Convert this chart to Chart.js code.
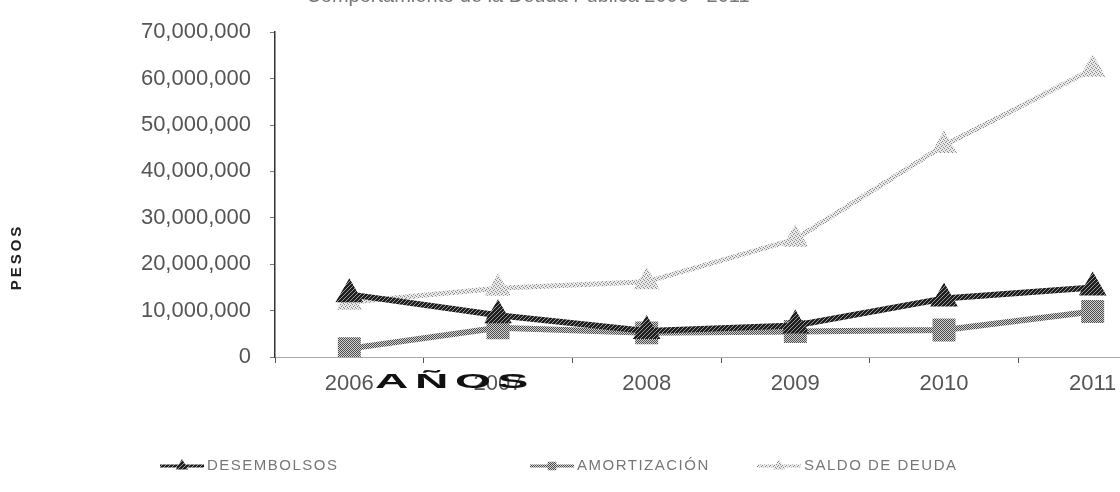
<!DOCTYPE html>
<html>
<head>
<meta charset="utf-8">
<script src="https://cdn.jsdelivr.net/npm/chart.js@4/dist/chart.umd.min.js"></script>
<style>
  html, body { margin: 0; padding: 0; background: #fff; width: 1120px; height: 492px; overflow: hidden; }
  #wrap { position: absolute; left: 0; top: 0; width: 1200px; height: 492px; }
</style>
</head>
<body>
<div id="wrap"><canvas id="chart"></canvas></div>
<script>
// Años del periodo
const years = ['2006', '2007', '2008', '2009', '2010', '2011'];

// Valores en pesos por serie
const desembolsos  = [13500000, 9000000, 5600000, 6800000, 12600000, 15000000];
const amortizacion = [1800000, 6300000, 5200000, 5500000, 5800000, 9800000];
const saldoDeuda   = [11800000, 14800000, 16200000, 25400000, 45600000, 62000000];

// Escala vertical
const yMin = 0;
const yMax = 70000000;
const yStep = 10000000;

// Textos
const seriesNames = ['DESEMBOLSOS', 'AMORTIZACIÓN', 'SALDO DE DEUDA'];
const chartTitle = 'Comportamiento de la Deuda Pública 2006 - 2011';
const yAxisTitle = 'PESOS';
const xAxisTitle = 'AÑOS';

const fmt = v => v.toLocaleString('en-US');

// Trama punteada para imitar la impresión en grises
function dither(fg, bg, mask) {
  const n = mask.length;
  const c = document.createElement('canvas');
  c.width = n; c.height = n;
  const g = c.getContext('2d');
  g.fillStyle = bg; g.fillRect(0, 0, n, n);
  g.fillStyle = fg;
  for (let y = 0; y < n; y++)
    for (let x = 0; x < n; x++)
      if (mask[y][x] === '1') g.fillRect(x, y, 1, 1);
  return g.createPattern(c, 'repeat');
}
const darkFill  = dither('#1e1e1e', '#9a9a9a', ['1101', '1011', '0111', '1110']);
const midFill   = dither('#4a4a4a', '#d4d4d4', ['1010', '0101', '1010', '0101']);
const lightFill = dither('#8a8a8a', '#e8e8e8', ['1000', '0010', '0100', '0001']);

// Títulos, ejes y leyenda dibujados sobre el lienzo
const decor = {
  id: 'decor',
  afterDraw(chart) {
    const ctx = chart.ctx;
    const area = chart.chartArea;
    ctx.save();

    // Título (parcialmente fuera del lienzo)
    ctx.fillStyle = '#777';
    ctx.font = '20px "Liberation Sans", Arial, sans-serif';
    ctx.textAlign = 'center';
    ctx.textBaseline = 'alphabetic';
    ctx.fillText(chartTitle, 528, 1.5);

    // Título del eje Y
    ctx.save();
    ctx.translate(17, 257);
    ctx.rotate(-Math.PI / 2);
    ctx.font = 'bold 15px "Liberation Sans", Arial, sans-serif';
    ctx.letterSpacing = '3px';
    ctx.fillStyle = '#222';
    ctx.textAlign = 'center';
    ctx.textBaseline = 'middle';
    ctx.fillText(yAxisTitle, 0, 0);
    ctx.restore();

    // Título del eje X
    ctx.save();
    ctx.translate(area.left + 180, area.bottom + 25);
    ctx.scale(2.2, 1);
    ctx.font = 'bold 21px "Liberation Sans", Arial, sans-serif';
    ctx.letterSpacing = '3px';
    ctx.fillStyle = '#111';
    ctx.textAlign = 'center';
    ctx.textBaseline = 'middle';
    ctx.fillText(xAxisTitle, 0, 0);
    ctx.restore();

    // Leyenda
    const legendX = [160, 530, 757];
    const legendY = 466;
    chart.data.datasets.forEach((ds, i) => {
      const x0 = legendX[i];
      ctx.strokeStyle = ds.borderColor;
      ctx.lineWidth = 3;
      ctx.beginPath();
      ctx.moveTo(x0, legendY);
      ctx.lineTo(x0 + 44, legendY);
      ctx.stroke();
      ctx.fillStyle = ds.pointBackgroundColor;
      ctx.strokeStyle = ds.pointBorderColor;
      Chart.helpers.drawPoint(ctx, { pointStyle: ds.pointStyle, radius: 4, rotation: 0, borderWidth: 1 }, x0 + 22, legendY);
      ctx.font = '15px "Liberation Sans Narrow", "Liberation Sans", Arial, sans-serif';
      ctx.letterSpacing = '1.5px';
      ctx.fillStyle = '#777';
      ctx.textAlign = 'left';
      ctx.textBaseline = 'middle';
      ctx.fillText(ds.label, x0 + 47, legendY);
    });

    ctx.restore();
  }
};

new Chart(document.getElementById('chart'), {
  type: 'line',
  data: {
    labels: years,
    datasets: [
      {
        label: seriesNames[0],
        data: desembolsos,
        borderColor: darkFill,
        borderWidth: 6,
        pointStyle: 'triangle',
        pointRadius: 10,
        pointBackgroundColor: darkFill,
        pointBorderColor: darkFill,
        order: 1
      },
      {
        label: seriesNames[1],
        data: amortizacion,
        borderColor: midFill,
        borderWidth: 6,
        pointStyle: 'rect',
        pointRadius: 12,
        pointBackgroundColor: midFill,
        pointBorderColor: midFill,
        order: 2
      },
      {
        label: seriesNames[2],
        data: saldoDeuda,
        borderColor: lightFill,
        borderWidth: 5,
        pointStyle: 'triangle',
        pointRadius: 10,
        pointBackgroundColor: lightFill,
        pointBorderColor: lightFill,
        order: 3
      }
    ]
  },
  options: {
    responsive: true,
    maintainAspectRatio: false,
    animation: false,
    devicePixelRatio: 1,
    layout: { padding: { top: 24, right: 33, left: 0, bottom: 75 } },
    plugins: {
      legend: { display: false },
      title: { display: false },
      tooltip: { enabled: false }
    },
    elements: { line: { tension: 0 } },
    scales: {
      x: {
        offset: true,
        grid: {
          offset: true,
          drawOnChartArea: false,
          drawTicks: true,
          tickLength: 6,
          color: '#555',
          lineWidth: 1
        },
        border: { display: true, color: '#aaa', dash: [2, 5] },
        ticks: {
          color: '#555',
          font: { family: '"Liberation Sans", Arial, sans-serif', size: 22 },
          padding: 8,
          maxRotation: 0,
          autoSkip: false
        },
        afterFit(scale) { scale.height = 60; }
      },
      y: {
        min: yMin,
        max: yMax,
        grid: {
          drawOnChartArea: false,
          drawTicks: true,
          tickLength: 5,
          color: '#777'
        },
        border: { display: true, color: '#333', width: 1.5 },
        ticks: {
          stepSize: yStep,
          color: '#555',
          font: { family: '"Liberation Sans", Arial, sans-serif', size: 22 },
          padding: 19,
          callback: v => fmt(v)
        },
        afterFit(scale) { scale.width = 275; }
      }
    }
  },
  plugins: [decor]
});
</script>
</body>
</html>
